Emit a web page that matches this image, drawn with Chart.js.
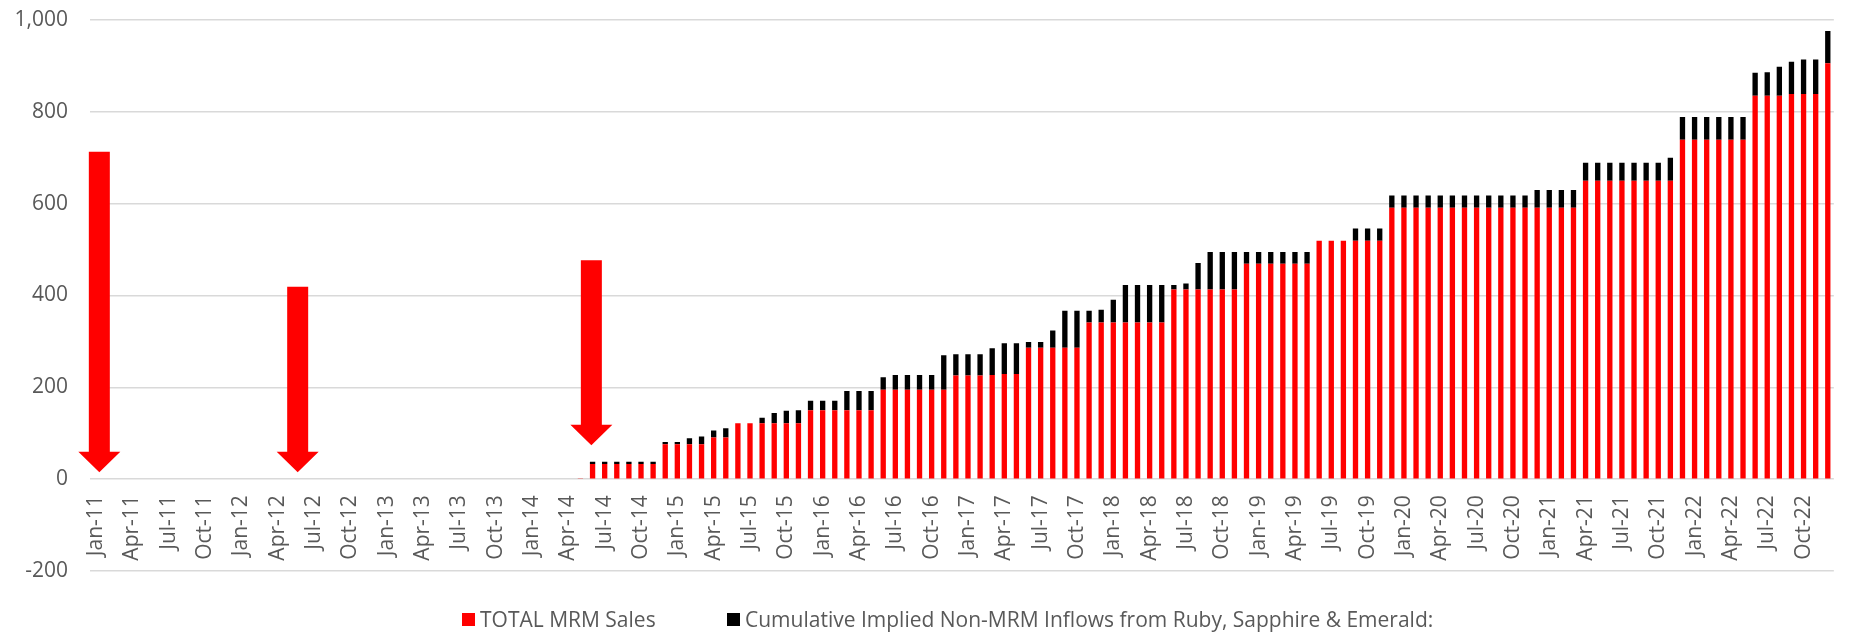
<!DOCTYPE html>
<html>
<head>
<meta charset="utf-8">
<title>MRM Sales</title>
<script src="https://cdn.jsdelivr.net/npm/chart.js@4.4.1/dist/chart.umd.min.js"></script>
<style>
  html, body { margin: 0; padding: 0; background: #fff; overflow: hidden; }
  #wrap { position: relative; width: 1869px; height: 634px; }
  .legend-item { position: absolute; top: 605px; display: flex; align-items: center; font: 21px 'Open Sans', sans-serif; color: #595959; white-space: nowrap; }
  .legend-item .box { width: 13px; height: 13px; margin-right: 5px; display: inline-block; }
</style>
</head>
<body>
<div id="wrap">
  <canvas id="chart"></canvas>
  <div class="legend-item" id="leg0" style="left:462px"></div>
  <div class="legend-item" id="leg1" style="left:727px"></div>
</div>
<script>
const years = ['11', '12', '13', '14', '15', '16', '17', '18', '19', '20', '21', '22'];
const monthNames = ['Jan', 'Feb', 'Mar', 'Apr', 'May', 'Jun', 'Jul', 'Aug', 'Sep', 'Oct', 'Nov', 'Dec'];

const labels = [];
years.forEach((y) => monthNames.forEach((m) => labels.push(m + '-' + y)));

// red segment, one value per month Jan-11 .. Dec-22
const mrmSales = [
  0, 0, 0, 0, 0, 0, 0, 0, 0, 0, 0, 0,
  0, 0, 0, 0, 0, 0, 0, 0, 0, 0, 0, 0,
  0, 0, 0, 0, 0, 0, 0, 0, 0, 0, 0, 0,
  0, 0, 0, 0, 1, 33, 33, 33, 33, 33, 33, 76,
  76, 76, 76, 91, 91, 122, 122, 122, 122, 122, 122, 150,
  150, 150, 150, 150, 150, 195, 195, 195, 195, 195, 195, 226,
  226, 226, 227, 229, 229, 286, 286, 286, 286, 286, 341, 341,
  341, 341, 341, 341, 341, 413, 413, 413, 413, 413, 413, 469,
  469, 469, 469, 469, 469, 519, 519, 519, 519, 519, 519, 591,
  591, 591, 591, 591, 591, 591, 591, 591, 591, 591, 591, 591,
  591, 591, 591, 650, 650, 650, 650, 650, 650, 650, 650, 739,
  739, 739, 739, 739, 739, 835, 835, 835, 839, 839, 839, 906,
];

// black segment stacked on top
const nonMrmInflows = [
  0, 0, 0, 0, 0, 0, 0, 0, 0, 0, 0, 0,
  0, 0, 0, 0, 0, 0, 0, 0, 0, 0, 0, 0,
  0, 0, 0, 0, 0, 0, 0, 0, 0, 0, 0, 0,
  0, 0, 0, 0, 0, 5, 5, 5, 5, 5, 5, 5,
  5, 13, 17, 15, 20, 0, 0, 12, 22, 27, 28, 21,
  21, 21, 42, 42, 42, 27, 32, 32, 32, 32, 75, 46,
  46, 46, 58, 67, 67, 13, 13, 38, 81, 81, 26, 28,
  50, 82, 82, 82, 82, 10, 13, 58, 82, 82, 82, 26,
  26, 26, 26, 26, 26, 0, 0, 0, 27, 27, 27, 27,
  27, 27, 27, 27, 27, 27, 27, 27, 27, 27, 27, 39,
  39, 39, 39, 39, 39, 39, 39, 39, 39, 39, 50, 50,
  50, 50, 50, 50, 50, 50, 51, 63, 70, 75, 75, 70,
];

// red arrows: month position, top value, tip value
const arrowAt = [0.27, 16.65, 40.9];
const arrowFrom = [713, 419, 477];
const arrowTo = [15, 15, 74];

const seriesNames = [
  'TOTAL MRM Sales',
  'Cumulative Implied Non-MRM Inflows from Ruby, Sapphire & Emerald:',
];
const seriesColors = ['#ff0000', '#000000'];

const textColor = '#595959';
const gridColor = '#d9d9d9';

Chart.defaults.font.family = "'Open Sans', sans-serif";
Chart.defaults.font.size = 21;
Chart.defaults.color = textColor;

const arrowPlugin = {
  id: 'arrows',
  afterDatasetsDraw(chart) {
    const { ctx, scales: { x, y } } = chart;
    ctx.save();
    ctx.fillStyle = '#ff0000';
    arrowAt.forEach((pos, i) => {
      const cx = x.getPixelForValue(pos);
      const top = y.getPixelForValue(arrowFrom[i]);
      const tip = y.getPixelForValue(arrowTo[i]);
      const neck = tip - 20.5;
      ctx.beginPath();
      ctx.moveTo(cx - 10.5, top);
      ctx.lineTo(cx + 10.5, top);
      ctx.lineTo(cx + 10.5, neck);
      ctx.lineTo(cx + 21, neck);
      ctx.lineTo(cx, tip);
      ctx.lineTo(cx - 21, neck);
      ctx.lineTo(cx - 10.5, neck);
      ctx.closePath();
      ctx.fill();
    });
    ctx.restore();
  },
};

const ctx = document.getElementById('chart').getContext('2d');

const chart = new Chart(ctx, {
  type: 'bar',
  data: {
    labels,
    datasets: [
      {
        label: seriesNames[0],
        data: mrmSales,
        backgroundColor: seriesColors[0],
        barPercentage: 0.44,
        categoryPercentage: 1.0,
      },
      {
        label: seriesNames[1],
        data: nonMrmInflows,
        backgroundColor: seriesColors[1],
        barPercentage: 0.44,
        categoryPercentage: 1.0,
      },
    ],
  },
  options: {
    responsive: true,
    maintainAspectRatio: false,
    animation: false,
    layout: { padding: { top: 20, right: 3, bottom: 63, left: 0 } },
    plugins: {
      legend: { display: false },
      tooltip: { enabled: false },
    },
    scales: {
      x: {
        stacked: true,
        position: { y: 0 },
        grid: { display: false, drawTicks: false },
        border: { display: false },
        ticks: {
          autoSkip: false,
          minRotation: 90,
          maxRotation: 90,
          padding: 16,
          color: textColor,
          callback: (v, i) => (i % 3 === 0 ? labels[i] : ''),
        },
      },
      y: {
        stacked: true,
        min: -200,
        max: 1000,
        ticks: { stepSize: 200, padding: 22, color: textColor },
        grid: { color: gridColor, lineWidth: 1.5, drawTicks: false },
        border: { display: false },
        afterFit: (scale) => {
          scale.width = 90;
          // keep the label overhang from pushing the plot down
          scale.paddingTop = 12;
          scale.paddingBottom = 12;
        },
      },
    },
  },
  plugins: [arrowPlugin],
});

chart.data.datasets.forEach((ds, i) => {
  const el = document.getElementById('leg' + i);
  const box = document.createElement('span');
  box.className = 'box';
  box.style.background = ds.backgroundColor;
  el.appendChild(box);
  el.appendChild(document.createTextNode(ds.label));
});
</script>
</body>
</html>
